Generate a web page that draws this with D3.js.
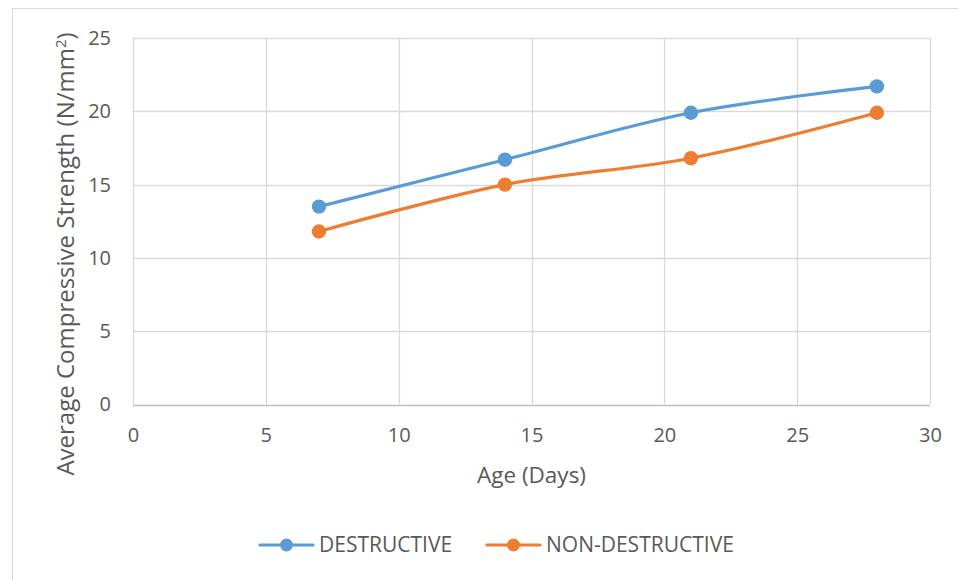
<!DOCTYPE html>
<html><head><meta charset="utf-8">
<script src="https://cdn.jsdelivr.net/npm/d3@7"></script>
<style>body{margin:0;background:#fff}svg{display:block}text{font-family:"Open Sans",sans-serif;fill:#595959}</style>
</head><body>
<svg id="c" width="958" height="580"></svg>
<script>
const ages = [7, 14, 21, 28];
const destructive = [13.5, 16.7, 19.9, 21.7];
const nonDestructive = [11.8, 15.0, 16.8, 19.9];
const seriesNames = ["DESTRUCTIVE", "NON-DESTRUCTIVE"];
const colors = ["#5B9BD5", "#ED7D31"];
const xTicks = [0, 5, 10, 15, 20, 25, 30];
const yTicks = [0, 5, 10, 15, 20, 25];

const svg = d3.select("#c");
svg.append("rect").attr("x", 12.5).attr("y", 8.5).attr("width", 960).attr("height", 600)
  .attr("fill", "#fff").attr("stroke", "#d9d9d9").attr("stroke-width", 1);

const L = 133, R = 930, T = 38, B = 404.5;
const x = d3.scaleLinear().domain([0, 30]).range([L, R]);
const y = d3.scaleLinear().domain([0, 25]).range([B, T]);

const g = svg.append("g");
g.selectAll(".vg").data(xTicks).enter().append("line")
  .attr("x1", d => Math.round(x(d)) + 0.5).attr("x2", d => Math.round(x(d)) + 0.5)
  .attr("y1", T).attr("y2", B).attr("stroke", "#d9d9d9").attr("stroke-width", 1.3);
g.selectAll(".hg").data(yTicks).enter().append("line")
  .attr("y1", d => Math.round(y(d)) + 0.5).attr("y2", d => Math.round(y(d)) + 0.5)
  .attr("x1", L).attr("x2", R).attr("stroke", d => d === 0 ? "#bfbfbf" : "#d9d9d9").attr("stroke-width", 1.3);

const xAxis = d3.axisBottom(x).tickValues(xTicks).tickSize(0).tickPadding(0);
const gx = svg.append("g").attr("transform", `translate(0,${B + 23})`).call(xAxis);
gx.select(".domain").remove();
gx.selectAll("text").attr("font-size", 20).attr("fill", "#595959").attr("dy", "0.71em")
  .style("font-family", '"Open Sans",sans-serif');

const yAxis = d3.axisLeft(y).tickValues(yTicks).tickSize(0).tickPadding(0);
const gy = svg.append("g").attr("transform", `translate(${L - 22},0)`).call(yAxis);
gy.select(".domain").remove();
gy.selectAll("text").attr("font-size", 20).attr("fill", "#595959")
  .style("font-family", '"Open Sans",sans-serif');

svg.append("text").attr("x", (L + R) / 2).attr("y", 483).attr("text-anchor", "middle")
  .attr("font-size", 22.5).text("Age (Days)");
const yt = svg.append("text").attr("transform", "translate(74,254) rotate(-90)")
  .attr("text-anchor", "middle").attr("font-size", 24);
yt.append("tspan").text("Average Compressive Strength (N/mm");
yt.append("tspan").attr("dy", -8).attr("font-size", 15).text("2");
yt.append("tspan").attr("dy", 8).text(")");

const series = [destructive, nonDestructive];
const line = d3.line().x(d => x(d[0])).y(d => y(d[1])).curve(d3.curveCatmullRom.alpha(0.5));
series.forEach((vals, i) => {
  const pts = ages.map((a, j) => [a, vals[j]]);
  svg.append("path").attr("d", line(pts)).attr("fill", "none")
    .attr("stroke", colors[i]).attr("stroke-width", 3.2).attr("stroke-linecap", "round");
  svg.selectAll(".m" + i).data(pts).enter().append("circle")
    .attr("cx", d => x(d[0])).attr("cy", d => y(d[1])).attr("r", 7.2).attr("fill", colors[i]);
});

const legX = [260, 487];
seriesNames.forEach((n, i) => {
  const lg = svg.append("g").attr("transform", `translate(${legX[i]},545)`);
  lg.append("line").attr("x1", 0).attr("x2", 53).attr("y1", 0).attr("y2", 0)
    .attr("stroke", colors[i]).attr("stroke-width", 3.2).attr("stroke-linecap", "round");
  lg.append("circle").attr("cx", 26.5).attr("cy", 0).attr("r", 6.5).attr("fill", colors[i]);
  lg.append("text").attr("x", 59).attr("y", 0).attr("dy", "0.35em").attr("font-size", 21).text(n);
});
</script>
</body></html>
